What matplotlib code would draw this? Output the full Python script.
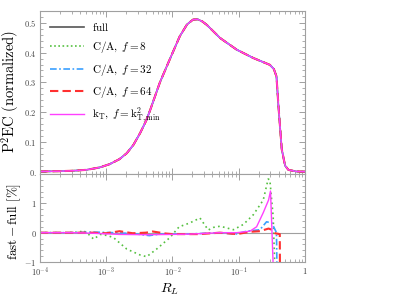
import matplotlib
matplotlib.use("Agg")
from matplotlib import pyplot as plt
from matplotlib.ticker import FixedLocator, FixedFormatter, LogLocator, NullFormatter
import numpy as np

plt.rcParams['mathtext.fontset'] = 'cm'

# top panel: normalized P2EC vs log10(R_L)
logR_top = [-4.0, -3.7, -3.5, -3.3, -3.1, -2.95, -2.8, -2.69, -2.59, -2.49, -2.4,
            -2.34, -2.19, -2.04, -1.89, -1.78, -1.69, -1.62, -1.55, -1.48, -1.28,
            -1.03, -0.78, -0.53, -0.47, -0.43, -0.40, -0.35, -0.30, -0.25, -0.13, 0.0]
p2ec_full = [0.0005, 0.0015, 0.003, 0.006, 0.014, 0.025, 0.042, 0.062, 0.09, 0.129, 0.17,
             0.205, 0.30, 0.378, 0.455, 0.495, 0.511, 0.512, 0.505, 0.493, 0.449,
             0.41, 0.382, 0.359, 0.345, 0.32, 0.22, 0.075, 0.02, 0.006, 0.0005, 0.0]

# bottom panel: fast - full [%]
logR_f8 = [-4.0, -3.6, -3.4, -3.35, -3.27, -3.19, -3.09, -2.98, -2.89, -2.69, -2.49,
           -2.39, -2.24, -2.04, -1.9, -1.74, -1.585, -1.46, -1.38, -1.28, -1.08,
           -0.93, -0.78, -0.63, -0.555, -0.53, -0.48, -0.45, -0.3, 0.0]
diff_f8 = [0.0, 0.0, 0.02, 0.08, -0.05, -0.22, -0.06, -0.1, -0.17, -0.56, -0.76,
           -0.82, -0.56, -0.17, 0.2, 0.33, 0.5, 0.09, 0.18, 0.22, 0.1,
           0.28, 0.61, 1.11, 1.83, 1.8, 0.55, -1.5, -5.0, -5.0]

logR_f32 = [-4.0, -3.5, -3.2, -2.9, -2.6, -2.35, -2.2, -2.0, -1.7, -1.28, -1.05,
            -0.88, -0.68, -0.58, -0.5, -0.43, -0.40, -0.3, 0.0]
diff_f32 = [0.0, 0.0, 0.02, 0.0, -0.03, -0.1, -0.05, -0.05, -0.04, 0.0, -0.05,
            0.05, 0.1, 0.37, 0.33, 0.0, -5.0, -5.0, -5.0]

logR_f64 = [-4.0, -3.5, -3.2, -3.0, -2.8, -2.6, -2.4, -2.3, -2.1, -2.0, -1.85,
            -1.6, -1.28, -1.03, -0.83, -0.68, -0.55, -0.5, -0.45, -0.38, -0.37, -0.2, 0.0]
diff_f64 = [0.0, 0.0, 0.0, -0.02, 0.05, -0.02, 0.0, 0.04, -0.03, -0.05, -0.05,
            -0.05, 0.0, -0.05, 0.03, 0.05, 0.14, 0.1, -0.02, -0.05, -5.0, -5.0, -5.0]

logR_kt = [-4.0, -3.5, -3.2, -2.8, -2.4, -2.0, -1.74, -1.28, -1.03, -0.83, -0.73,
           -0.63, -0.55, -0.52, -0.45, -0.3, 0.0]
diff_kt = [0.0, 0.0, -0.02, -0.06, -0.07, -0.06, -0.05, 0.0, 0.0, 0.05, 0.2,
           0.68, 1.11, 1.42, -3.0, -5.0, -5.0]

top_ticks = [0, 0.1, 0.2, 0.3, 0.4, 0.5]
top_labels = ['0.', '0.1', '0.2', '0.3', '0.4', '0.5']
bot_ticks = [-1, 0, 1]
bot_labels = ['-1', '0', '1']
x_ticks = [1e-4, 1e-3, 1e-2, 1e-1, 1]
x_labels = ['10^{-4}', '10^{-3}', '10^{-2}', '10^{-1}', '1']

c_full = '#555555'
c_f8 = '#55c040'
c_f32 = '#3aa0ff'
c_f64 = '#ff3030'
c_kt = '#ff40ff'
grey = '#a0a0a0'

fig = plt.figure(figsize=(3.99, 3.04), dpi=100)
ax1 = fig.add_axes([0.1003, 0.4276, 0.664, 0.5362])
ax2 = fig.add_axes([0.1003, 0.1382, 0.664, 0.2894])

x_top = 10 ** np.array(logR_top)
ax1.plot(x_top, p2ec_full, color=c_full, lw=1.2, label=r'$\mathrm{full}$')
ax1.plot(x_top, p2ec_full, color=c_f8, lw=1.2, ls=(0, (1, 1.5)), label=r'$\mathrm{C/A,}\;f=8$')
ax1.plot(x_top, p2ec_full, color=c_f32, lw=1.2, ls=(0, (4, 1.5, 1, 1.5)), label=r'$\mathrm{C/A,}\;f=32$')
ax1.plot(x_top, p2ec_full, color=c_f64, lw=1.5, ls=(0, (4, 2)), label=r'$\mathrm{C/A,}\;f=64$')
ax1.plot(x_top, p2ec_full, color=c_kt, lw=1.0, label=r'$\mathrm{k_T,}\;f=\mathrm{k^2_{T,min}}$')

ax2.axhline(0, color=grey, lw=0.8)
ax2.plot(10 ** np.array(logR_f8), diff_f8, color=c_f8, lw=1.2, ls=(0, (1, 2)))
ax2.plot(10 ** np.array(logR_f32), diff_f32, color=c_f32, lw=1.2, ls=(0, (4, 1.5, 1, 1.5)))
ax2.plot(10 ** np.array(logR_f64), diff_f64, color=c_f64, lw=1.5, ls=(0, (4, 2)))
ax2.plot(10 ** np.array(logR_kt), diff_kt, color=c_kt, lw=1.0)

for ax in (ax1, ax2):
    ax.set_xscale('log')
    ax.set_xlim(1e-4, 1)
    for s in ax.spines.values():
        s.set_color(grey)
        s.set_linewidth(0.8)
    ax.tick_params(which='both', direction='in', top=True, right=True, color=grey,
                   labelcolor='#444444', labelsize=6)
    ax.tick_params(which='major', length=4, width=0.7)
    ax.tick_params(which='minor', length=2, width=0.6)
    ax.tick_params(axis='y', pad=2.5)
    ax.tick_params(axis='x', pad=3)
    ax.xaxis.set_major_locator(FixedLocator(x_ticks))
    ax.xaxis.set_minor_locator(LogLocator(base=10, subs=np.arange(2, 10), numticks=10))
    ax.xaxis.set_minor_formatter(NullFormatter())

ax1.set_ylim(-0.008, 0.54)
ax1.yaxis.set_major_locator(FixedLocator(top_ticks))
ax1.yaxis.set_major_formatter(FixedFormatter([r'$\mathsf{%s}$' % t for t in top_labels]))
ax1.yaxis.set_minor_locator(FixedLocator(np.arange(0, 0.54, 0.02)))
ax1.xaxis.set_major_formatter(NullFormatter())
ax1.set_ylabel(r'$\mathrm{P^2EC\ (normalized)}$', fontsize=10.5)
ax1.yaxis.set_label_coords(-0.068, 0.506)

ax1.legend(loc='upper left', frameon=False, fontsize=8.0, handlelength=3.1,
           handletextpad=0.7, labelspacing=0.56, borderaxespad=0.0,
           bbox_to_anchor=(0.02, 0.965))

ax2.set_ylim(-1, 2)
ax2.yaxis.set_major_locator(FixedLocator(bot_ticks))
ax2.yaxis.set_major_formatter(FixedFormatter([r'$\mathsf{%s}$' % t for t in bot_labels]))
ax2.yaxis.set_minor_locator(FixedLocator(np.arange(-1, 2.01, 0.2)))
ax2.xaxis.set_major_formatter(FixedFormatter([r'$\mathsf{%s}$' % t for t in x_labels]))
ax2.set_ylabel(r'$\mathrm{fast} - \mathrm{full}\ [\%]$', fontsize=9.5)
ax2.yaxis.set_label_coords(-0.065, 0.46)
ax2.set_xlabel(r'$R_L$', fontsize=10)
ax2.xaxis.set_label_coords(0.49, -0.227)

fig.savefig('out.png', dpi=100)
